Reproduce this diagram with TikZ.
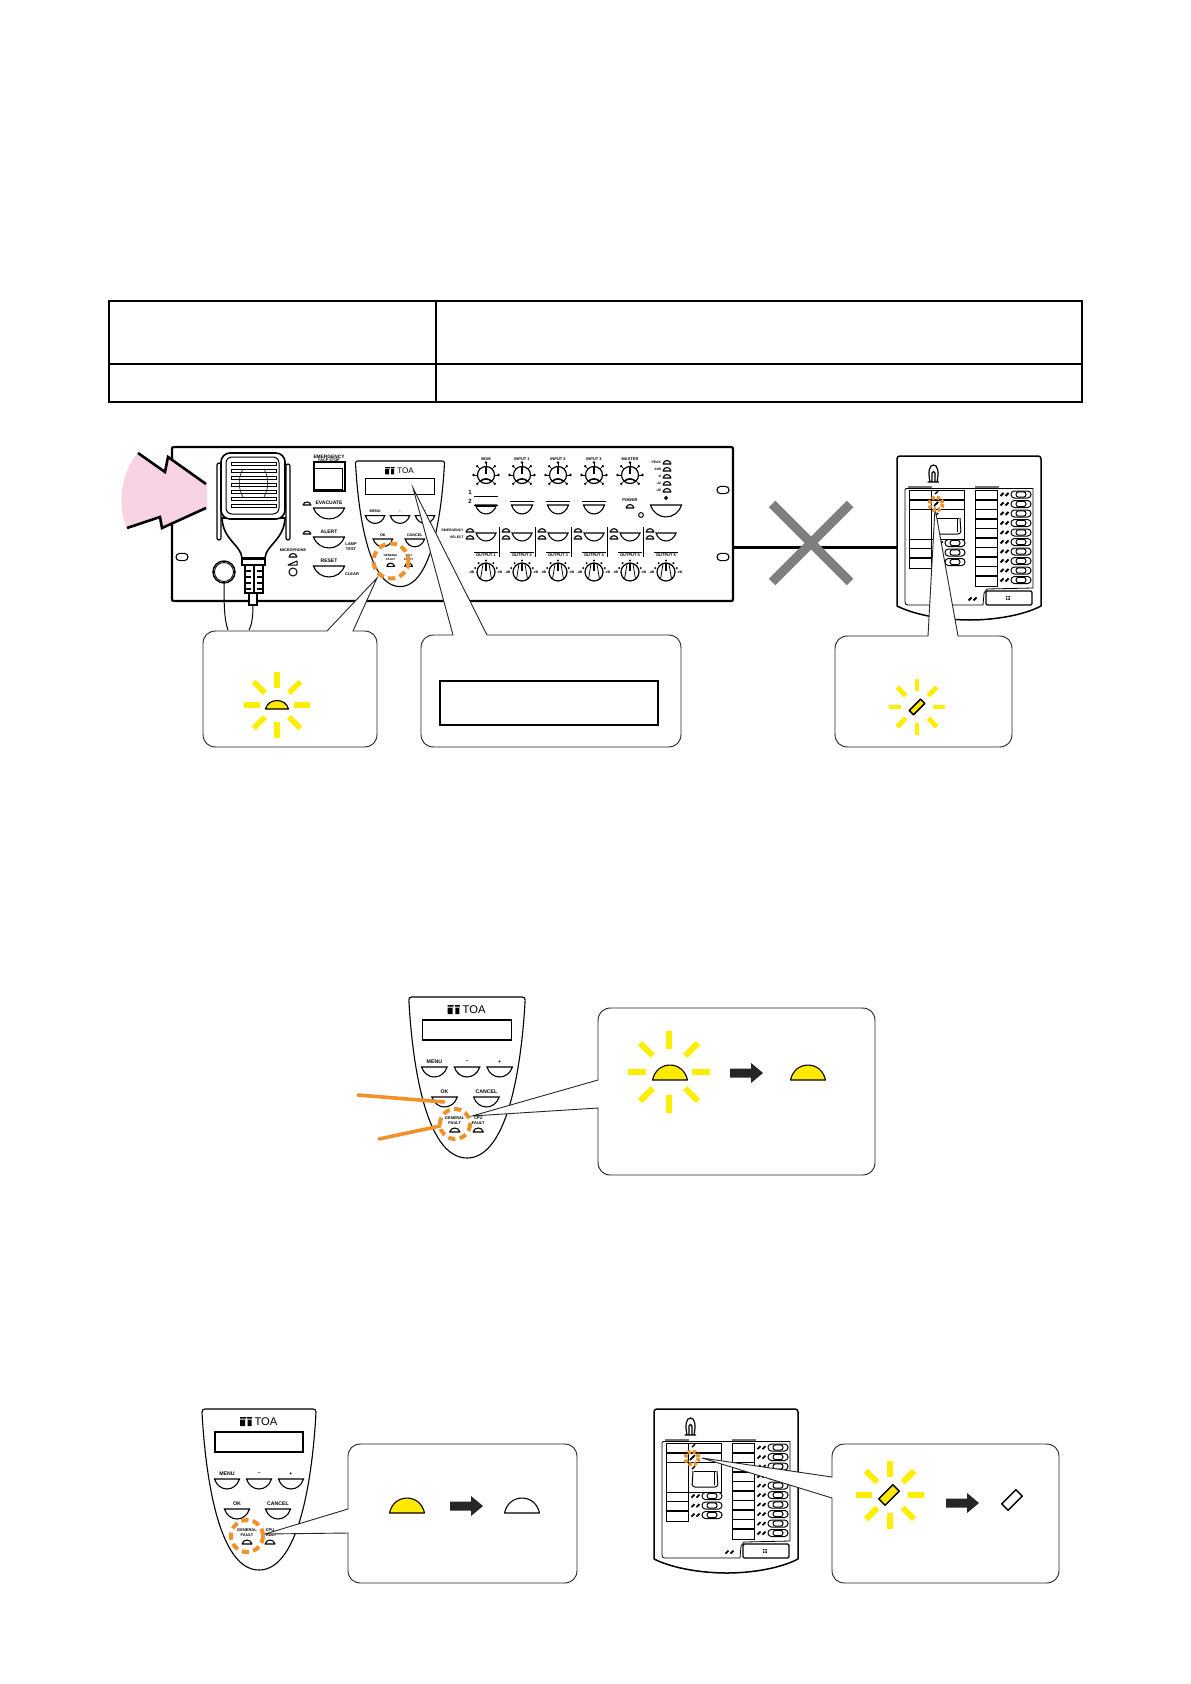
\documentclass[tikz,border=0pt]{standalone}
\usepackage{fontspec}
\setmainfont{Liberation Sans}
\usetikzlibrary{calc}
\definecolor{flashy}{HTML}{FFEE00}
\definecolor{ledy}{HTML}{FFE900}
\definecolor{orng}{HTML}{F0912A}
\definecolor{pinkf}{HTML}{F7D3E3}
\definecolor{crossg}{HTML}{7F7F7F}
\newcounter{lc}
\tikzset{
 thinl/.style={line width=0.55pt,draw=black},
 callout/.style={draw=black!85,line width=0.45pt,fill=white},
 tinytxt/.style={font=\bfseries\fontsize{2.0}{2.4}\selectfont,inner sep=0,align=center},
 paneltxt/.style={font=\bfseries\fontsize{2.6}{2.9}\selectfont},
 faulttxt/.style={font=\bfseries\fontsize{2.0}{2.4}\selectfont},
 frontA/.style={font=\bfseries\fontsize{2.5}{3}\selectfont},
 frontS/.style={font=\bfseries\fontsize{1.7}{2}\selectfont},
 ray/.style={draw=flashy,line width=2.8pt},
 orngline/.style={draw=orng,line width=1.8pt,line cap=round},
 faultring/.style={draw=orng,line width=2pt,dash pattern=on 3.6pt off 2.2pt},
 faultringS/.style={draw=orng,line width=1.9pt,dash pattern=on 1.6pt off 1pt},
 rackline/.style={draw=black,line width=1.1pt},
 tablel/.style={draw=black,line width=0.9pt},
 xbar/.style={draw=crossg,line width=4.6pt},
 bigarrow/.style={fill=black!85,draw=none},
}
% label: x, y, options, text
\newcommand\lbl[4]{\stepcounter{lc}\node[tinytxt,#3] (t\thelc) at (#1,#2) {#4};}
% hanging push button: x, top, w, h
\newcommand\hm[5][white]{\begin{scope}[shift={(#2,#3)},xscale=#4,yscale=#5]
 \draw[thinl,fill=#1] (-.5,0) .. controls (-.33,1.33) and (.33,1.33) .. (.5,0) -- cycle;
\end{scope}}
% dome lamp: x, base, w, h
\newcommand\led[5][white]{\begin{scope}[shift={(#2,#3)},xscale=#4,yscale=#5]
 \draw[thinl,line join=round,fill=#1] (-.5,0) .. controls (-.38,-1.33) and (.38,-1.33) .. (.5,0) -- cycle;
\end{scope}}
% rays: x, y, inner, outer, width
\newcommand\rays[5]{\foreach \a in {0,45,...,315}{\draw[ray,line width=#5pt] ($(#1,#2)+(\a:#3)$) -- ($(#1,#2)+(\a:#4)$);}}
% diagonal lamp: x,y,len,wid,fill
\newcommand\dlamp[5]{\begin{scope}[shift={(#1,#2)},rotate=45]
 \draw[line width=.75pt,line join=round,fill=#5] (-#3/2,-#4/2) rectangle (#3/2,#4/2);
\end{scope}}
\newcommand\bigarr[2]{\fill[bigarrow] (#1,#2-4.5) -- (#1+21,#2-4.5) -- (#1+21,#2-10) -- (#1+33,#2) -- (#1+21,#2+10) -- (#1+21,#2+4.5) -- (#1,#2+4.5) -- cycle;}
% knob, upper type
\newcommand\knobA[2]{\begin{scope}[shift={(#1,#2)}]
 \draw[line width=.6pt] (0,0) circle (8.5);
 \draw[line width=1pt] (0,-9) -- (0,-1);
 \draw[line width=.8pt] (-6,6.5) .. controls (-2,3) and (2,3) .. (6,6.5);
 \foreach \a in {135,180,...,405}{\fill ($(\a:12.5)$) circle (1.3); \draw[line width=.3pt] ($(\a:8.5)$) -- ($(\a:12)$);}
\end{scope}}
% knob, lower type
\newcommand\knobB[2]{\begin{scope}[shift={(#1,#2)}]
 \draw[line width=.6pt] (0,0) circle (9);
 \draw[line width=1pt] (0,-9) -- (0,-1);
 \draw[line width=.4pt] (-3,-8) -- (-5.5,7) (3,-8) -- (5.5,7);
 \foreach \a in {200,230,270,310,340}{\fill ($(\a:11.5)$) circle (1.1);}
 \lbl{-14.5}{0}{frontS}{-dB}\lbl{14}{0}{frontS}{dB}
\end{scope}}
% faceplate: x, top, xscale, yscale, text scale
\newcommand\panel[5]{\begin{scope}[shift={(#1,#2)},xscale=#3,yscale=#4]
 \draw[line width=.55pt,fill=white,line join=round] (-57,3) .. controls (-57,1) and (-56,0) .. (-54,0) -- (54,0) .. controls (56,0) and (57,1) .. (57,3)
   .. controls (54,60) and (42,161) .. (0,161) .. controls (-42,161) and (-54,60) .. (-57,3) -- cycle;
 \draw[line width=.55pt] (-44,23) rectangle (44,43);
 \fill (-19,8) rectangle (-13,9.5) (-12,8) rectangle (-7,9.5) (-19,10.5) rectangle (-14,17) (-11.5,10.5) rectangle (-7.5,17);
 \stepcounter{lc}\node[inner sep=0,font=\fontsize{5.6}{6}\selectfont,scale=#5] (t\thelc) at (7,12.7) {TOA};
 \lbl{-32}{65}{paneltxt,scale=#5}{MENU}\lbl{0}{65}{paneltxt,scale=#5}{–}\lbl{32}{65}{paneltxt,scale=#5}{+}
 \lbl{-22}{95}{paneltxt,scale=#5}{OK}\lbl{19}{95}{paneltxt,scale=#5}{CANCEL}
 \foreach \bx in {-32,0,32}{\hm{\bx}{70}{25}{10}}
 \hm{-22}{100}{25}{10}\hm{19}{100}{25}{10}
 \lbl{-12}{124}{faulttxt,scale=#5}{GENERAL\\FAULT}
 \led{-12}{135}{10}{4}
 \lbl{11}{124}{faulttxt,scale=#5}{CPU\\FAULT}
 \led{11}{135}{10}{4}
\end{scope}}
% small lamp pair
\newcommand\lpair[2]{\draw[line width=.9pt] (#1-1.5,#2+1.5) -- (#1+1.5,#2-1.5) (#1+3.5,#2+1.5) -- (#1+6.5,#2-1.5);}
\newcommand\ovalbtn[2]{\draw[line width=.5pt,rounded corners=1.7pt] (#1-10,#2-3.5) rectangle (#1+10,#2+3.5);\draw[line width=.5pt,rounded corners=1.3pt] (#1-5,#2-2.7) rectangle (#1+5,#2+2.7);}
% remote unit: left, top
\newcommand\unit[2]{\begin{scope}[shift={(#1,#2)}]
 \draw[line width=.75pt,fill=white,line join=round] (0,3) .. controls (0,1) and (1,0) .. (3,0) -- (141,0) .. controls (143,0) and (144,1) .. (144,3) -- (144,150)
   .. controls (125,160) and (95,164) .. (73,164) .. controls (50,164) and (20,160) .. (0,150) -- cycle;
 \draw[line width=.4pt,line join=round] (8,34) .. controls (8,33) and (8,32.5) .. (9,32.5) -- (136,32.5) -- (136,132) -- (90,133) -- (87,137) -- (86,149) -- (11,149) .. controls (9,149) and (8,148) .. (8,146) -- cycle;
 \draw[line width=.8pt,draw=black!55] (11,31) -- (35,31) (78,31) -- (102,31);
 \draw[line width=.6pt] (30.5,26) -- (42,26) (33,26) .. controls (31,16) and (32,9) .. (36.5,9) .. controls (41,9) and (42,16) .. (40,26) (35,26) -- (35,17) .. controls (35,15) and (38,15) .. (38,17) -- (38,26);
 \draw[line width=.5pt] (12,34.5) rectangle (34,53.5) (34,34.5) rectangle (67,53.5) (12,53.5) rectangle (34,83) (34,53.5) rectangle (67,83);
 \draw[line width=.9pt] (12,44) -- (34,44) (34,44) -- (67,44);
 \draw[line width=.5pt] (12,83) rectangle (34,112);
 \draw[line width=.9pt] (12,92.5) -- (34,92.5) (12,102) -- (34,102);
 \draw[line width=.5pt,rounded corners=1.5pt] (39,62) -- (38,78) -- (64,78) -- (63,62);
 \draw[line width=.5pt] (40,62) -- (62,62);
 \draw[line width=.5pt] (60.5,63) -- (60.5,76);
 \draw[line width=.7pt] (38,38) -- (41,35) (38,49) -- (41,46) (38,60) -- (41,57);
 \foreach \yy in {87,96.5,106}{\lpair{39}{\yy}\ovalbtn{58}{\yy}}
 \draw[line width=.5pt] (78,34.5) rectangle (100,130);
 \foreach \yy in {44,53.5,63,72.5,82,91.5,101,110.5,120}{\draw[line width=.9pt] (78,\yy) -- (100,\yy);}
 \foreach \yy in {38.5,48,57.5,67,76.5,86,95.5,105,114.5,124}{\lpair{105}{\yy}\ovalbtn{124}{\yy}}
 \lpair{73}{143}
 \draw[line width=.6pt,rounded corners=.6] (89,135) rectangle (135,149);
 \fill (109,140) rectangle (110.4,141.4) (111.4,140) rectangle (112.8,141.4) (109,142.4) rectangle (110.4,143.8) (111.4,142.4) rectangle (112.8,143.8);
\end{scope}}
\begin{document}
\begin{tikzpicture}[x=0.5pt,y=-0.5pt]
\useasboundingbox (0,0) rectangle (1190,1684);
\fill[white] (0,0) rectangle (1190,1684);
% table
\draw[tablel] (109,301) rectangle (1082,402);
\draw[tablel] (109,364) -- (1082,364) (436,301) -- (436,402);
% connection rack -> unit
\coordinate (rackport) at (733,547);
\coordinate (unitport) at (897,547);
\draw[line width=1.5pt] (rackport) -- (unitport);
\draw[xbar] (772,504) -- (850,582) (850,504) -- (772,582);
% rack
\draw[rackline,line join=round] (172,449) .. controls (172,448) and (172,447) .. (174,447) -- (731,447) .. controls (733,447) and (733,448) .. (733,449) -- (733,599) .. controls (733,601) and (732,601) .. (731,601) -- (174,601) .. controls (172,601) and (172,600) .. (172,599) -- cycle;
\foreach \sx/\sy in {182/557,723/490,723/557}{\draw[line width=.55pt,rounded corners=1.8pt] (\sx-6,\sy-3.6) rectangle (\sx+6,\sy+3.6);}
% pink burst
\fill[pinkf] (138,453) .. controls (122,470) and (116,505) .. (127,528) -- (160,517) -- (162,528) -- (207,508) -- (207,484) -- (168,457) -- (165,472) -- cycle;
\draw[line width=1.3pt] (206,484) -- (168,457) -- (165,472) -- (138,453);
\draw[line width=1.3pt] (127,528) -- (160,517) -- (162,528) -- (206,508);
% left controls
\lbl{293}{550}{font=\bfseries\fontsize{1.9}{2}\selectfont}{MICROPHONE}
\led{293}{557}{8}{3.5}
\draw[line width=.5pt,line join=round] (288,565) -- (297,561) -- (297,565) -- cycle;
\draw[line width=.5pt] (293,572) circle (4);
\lbl{329}{456.5}{font=\bfseries\fontsize{2.4}{3}\selectfont}{EMERGENCY}
\lbl{329}{460.3}{font=\bfseries\fontsize{1.9}{2}\selectfont}{FACP STOP}
\draw[line width=.8pt] (314,462) rectangle (345,491);
\draw[line width=.5pt] (314,468) -- (342,468) -- (342,489) -- (315,489);
\lbl{329}{503}{frontA}{EVACUATE}\hm{329}{508}{31}{11}\led{307}{505}{8}{3}
\lbl{329}{532}{frontA}{ALERT}\hm{329}{537}{31}{11}\led{307}{534}{8}{3}
\lbl{329}{561}{frontA}{RESET}\hm{329}{566}{31}{11}
\lbl{351}{547}{}{LAMP\\TEST}
\lbl{352}{574}{}{CLEAR}
% mic
\draw[line width=.5pt] (224,583) .. controls (224,600) and (224,620) .. (228,630);
\draw[line width=.5pt] (253,605) .. controls (253,615) and (252,625) .. (249,630);
\draw[line width=.7pt] (224,572) circle (11);
\draw[line width=.4pt] (224,572) circle (9.5);
\draw[line width=.6pt,rounded corners=1pt,fill=white] (217,463) rectangle (221,540);
\draw[line width=.6pt,rounded corners=1pt,fill=white] (286,464) rectangle (290,540);
\draw[line width=.8pt,fill=white] (222,518) .. controls (223,540) and (241,545) .. (242,558) -- (265,558) .. controls (266,545) and (284,540) .. (285,518) -- cycle;
\draw[line width=.8pt,rounded corners=4.5pt,fill=white] (221,453) rectangle (285,519);
\draw[line width=.5pt,rounded corners=3pt] (226,457) rectangle (279,514);
\foreach \gy in {462,469,476,483,490,497,504}{\draw[line width=.45pt,fill=white] (231,\gy) rectangle (276,\gy+3.5);}
\draw[line width=.3pt] (243,469) .. controls (238,478) and (238,488) .. (243,497) (264,469) .. controls (269,478) and (269,488) .. (264,497);
\draw[line width=.7pt,fill=white] (242,559) rectangle (265,565);
\fill (242,558) rectangle (265,560);
\draw[line width=.6pt,fill=white] (245,565) rectangle (263,593);
\draw[line width=.6pt] (254,565) -- (254,593);
\foreach \ry in {571,577,583,589}{\draw[line width=.9pt] (245,\ry) -- (251,\ry) (257,\ry) -- (263,\ry);}
\draw[line width=.7pt,fill=white] (249,593) rectangle (257,605);
% upper knobs
\foreach \kx/\kl in {486/BGM,522/INPUT 1,558/INPUT 2,594/INPUT 3,630/MASTER}{\lbl{\kx}{459}{}{\kl}\knobA{\kx}{475}}
\lbl{470}{492}{font=\bfseries\fontsize{3}{3}\selectfont}{1}\lbl{470}{501}{font=\bfseries\fontsize{3}{3}\selectfont}{2}
\draw[line width=.5pt] (474,496) -- (498,496) (474,505) -- (498,505);
\hm[white]{486}{505}{21}{9}
\draw[line width=.8pt] (476,506) -- (496,506);
\foreach \kx in {522,558,594}{\draw[line width=.5pt] (\kx-12,501) -- (\kx+12,501);\hm{\kx}{505}{21}{9}}
\lbl{630}{500}{}{POWER}\led{630}{508}{8}{3.5}
\draw[line width=.5pt] (641,515) circle (2.4);
\draw[line width=.5pt] (666,498) circle (1.4);\draw[line width=.5pt] (666,495.5) -- (666,498.5);
\hm{666}{505}{31}{12}
\foreach \vy/\vl in {462/PEAK,469/0dB,476/-6,483/-12,490/-20}{\lbl{661.5}{\vy}{frontS,anchor=east}{\vl}\led{667}{\vy+2}{8}{3.5}}
% output rows
\lbl{464}{530}{frontS,anchor=east}{EMERGENCY}\lbl{464}{537}{frontS,anchor=east}{SELECT}
\foreach \ox/\ol [count=\oi] in {486/OUTPUT 1,522/OUTPUT 2,558/OUTPUT 3,594/OUTPUT 4,630/OUTPUT 5,666/OUTPUT 6}{
 \hm{\ox}{533}{20}{8}
 \led{\ox-16}{532}{8}{3.3}\led{\ox-16}{539}{8}{3.3}
 \draw[line width=.4pt] (\ox-12,552) -- (\ox+12,552);
 \lbl{\ox}{555.5}{}{\ol}
 \knobB{\ox}{572}
}
\foreach \sx in {499,535,571,607,643}{\draw[line width=.5pt] (\sx,527) -- (\sx,557);}
% faceplate on rack
\panel{400}{461}{.78}{.78}{.72}
% callouts on rack
\path[callout] (203,644) .. controls (203,636) and (208,631) .. (216,631) -- (327,631) -- (377,578) -- (353,631) -- (364,631) .. controls (372,631) and (377,636) .. (377,644) -- (377,734) .. controls (377,742) and (372,747) .. (364,747) -- (216,747) .. controls (208,747) and (203,742) .. (203,734) -- cycle;
\path[callout] (421,648) .. controls (421,640) and (426,635) .. (434,635) -- (453,635) -- (413,488) -- (487,635) -- (668,635) .. controls (676,635) and (681,640) .. (681,648) -- (681,734) .. controls (681,742) and (676,747) .. (668,747) -- (434,747) .. controls (426,747) and (421,742) .. (421,734) -- cycle;
\draw[line width=.9pt] (440,681) rectangle (658,725);
\draw[faultring] (391,561) circle (17.5);
\rays{277}{705}{17}{33}{2.8}
\led[ledy]{277}{709}{23}{8.5}
% unit top
\unit{897}{456}
\path[callout] (835,649) .. controls (835,641) and (840,636) .. (848,636) -- (928,636) -- (935,508) -- (958,636) -- (999,636) .. controls (1007,636) and (1012,641) .. (1012,649) -- (1012,734) .. controls (1012,742) and (1007,747) .. (999,747) -- (848,747) .. controls (840,747) and (835,742) .. (835,734) -- cycle;
\draw[faultringS] (936,504) circle (6.5);
\draw[line width=.8pt] (934,506) -- (938,502);
\rays{917}{707}{16}{28}{2.4}
\dlamp{917}{707}{16}{6}{ledy}
% middle figure
\panel{467}{997}{1.02}{1}{1}
\coordinate (okpoint) at (444,1102);
\coordinate (okfree) at (358,1095);
\coordinate (gfpoint) at (440,1126);
\coordinate (gffree) at (379,1139);
\path[callout] (598,1108) -- (472,1116) -- (598,1080) -- (598,1021) .. controls (598,1013) and (603,1008) .. (611,1008) -- (862,1008) .. controls (870,1008) and (875,1013) .. (875,1021) -- (875,1162) .. controls (875,1170) and (870,1175) .. (862,1175) -- (611,1175) .. controls (603,1175) and (598,1170) .. (598,1162) -- cycle;
\draw[orngline] (okfree) -- (okpoint);
\draw[orngline] (gffree) -- (gfpoint);
\draw[faultring] (455,1124) circle (15);
\rays{669}{1072}{23}{41}{3}
\led[ledy]{670}{1080}{35}{15}
\bigarr{730}{1073}
\led[ledy]{808}{1080}{35}{15}
% bottom-left figure
\panel{259}{1409}{1}{1}{1}
\path[callout] (348,1533) -- (265,1534) -- (348,1509) -- (348,1457) .. controls (348,1449) and (353,1444) .. (361,1444) -- (564,1444) .. controls (572,1444) and (577,1449) .. (577,1457) -- (577,1570) .. controls (577,1578) and (572,1583) .. (564,1583) -- (361,1583) .. controls (353,1583) and (348,1578) .. (348,1570) -- cycle;
\draw[faultring] (247,1536) circle (16);
\led[ledy]{407}{1513}{35}{15}
\bigarr{450}{1506}
\led{522}{1513}{35}{15}
% bottom-right figure
\unit{654}{1409}
\path[callout] (832,1498) -- (702,1458) -- (832,1477) -- (832,1457) .. controls (832,1449) and (837,1444) .. (845,1444) -- (1046,1444) .. controls (1054,1444) and (1059,1449) .. (1059,1457) -- (1059,1570) .. controls (1059,1578) and (1054,1583) .. (1046,1583) -- (845,1583) .. controls (837,1583) and (832,1578) .. (832,1570) -- cycle;
\draw[faultringS] (692,1458) circle (6.5);
\draw[line width=.8pt] (690,1460) -- (694,1456);
\rays{890}{1495}{18}{34}{3}
\dlamp{889}{1495}{20}{9}{ledy}
\bigarr{946}{1503}
\dlamp{1012}{1500}{20}{9}{white}
\end{tikzpicture}
\end{document}
